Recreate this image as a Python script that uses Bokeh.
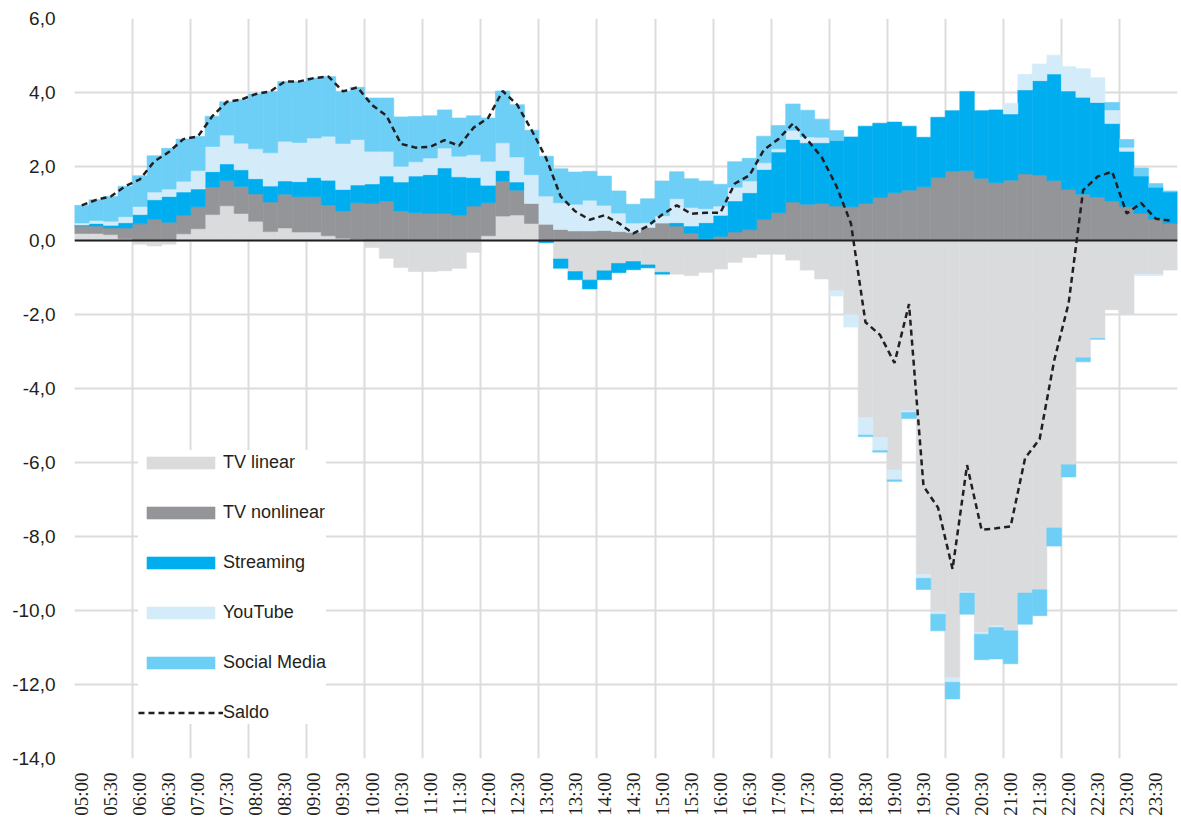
import math
from bokeh.plotting import figure
from bokeh.models import ColumnDataSource, FixedTicker, Span, Legend, LegendItem, Range1d
from bokeh.embed import file_html
from bokeh.resources import INLINE

# ---- axis labels ----
x_tick_labels = ["05:00", "05:30", "06:00", "06:30", "07:00", "07:30", "08:00", "08:30",
                 "09:00", "09:30", "10:00", "10:30", "11:00", "11:30", "12:00", "12:30",
                 "13:00", "13:30", "14:00", "14:30", "15:00", "15:30", "16:00", "16:30",
                 "17:00", "17:30", "18:00", "18:30", "19:00", "19:30", "20:00", "20:30",
                 "21:00", "21:30", "22:00", "22:30", "23:00", "23:30"]
y_ticks = [-14, -12, -10, -8, -6, -4, -2, 0, 2, 4, 6]
y_tick_labels = ["-14,0", "-12,0", "-10,0", "-8,0", "-6,0", "-4,0", "-2,0", "0,0", "2,0", "4,0", "6,0"]

# ---- data: 15-minute slots from 05:00 to 23:45 ----
tv_linear = [
    0.19, 0.19, 0.16, 0.05, -0.10, -0.15, -0.10, 0.18, 0.32, 0.70,
    0.94, 0.73, 0.52, 0.24, 0.34, 0.23, 0.23, 0.13, 0.06, 0.03,
    -0.19, -0.48, -0.73, -0.84, -0.84, -0.82, -0.75, -0.32, 0.13, 0.66,
    0.69, 0.46, 0.00, -0.50, -0.84, -1.07, -0.82, -0.62, -0.57, -0.66,
    -0.86, -0.91, -0.95, -0.86, -0.77, -0.59, -0.46, -0.37, -0.37, -0.53,
    -0.80, -1.04, -1.36, -2.01, -4.79, -5.32, -6.20, -4.60, -9.02, -10.04,
    -11.82, -9.49, -10.59, -10.41, -10.55, -9.53, -9.44, -7.77, -6.06, -3.17,
    -2.65, -1.87, -2.00, -0.91, -0.91, -0.80]
tv_nonlinear = [
    0.20, 0.20, 0.18, 0.29, 0.45, 0.58, 0.49, 0.50, 0.59, 0.74,
    0.68, 0.73, 0.74, 0.80, 0.91, 0.95, 0.95, 0.83, 0.74, 0.99,
    1.00, 1.07, 0.80, 0.75, 0.73, 0.73, 0.68, 0.93, 0.89, 0.95,
    0.67, 0.54, 0.44, 0.30, 0.26, 0.26, 0.27, 0.24, 0.22, 0.35,
    0.47, 0.39, 0.20, 0.05, 0.11, 0.23, 0.29, 0.57, 0.75, 1.04,
    0.98, 1.00, 0.93, 0.91, 1.00, 1.16, 1.29, 1.36, 1.45, 1.70,
    1.87, 1.89, 1.68, 1.56, 1.63, 1.80, 1.77, 1.62, 1.38, 1.25,
    1.17, 1.07, 0.91, 0.73, 0.57, 0.46]
streaming = [
    0.03, 0.07, 0.07, 0.14, 0.25, 0.52, 0.70, 0.63, 0.48, 0.42,
    0.45, 0.45, 0.41, 0.43, 0.36, 0.41, 0.52, 0.67, 0.58, 0.48,
    0.53, 0.67, 0.78, 0.99, 1.05, 1.23, 1.04, 0.77, 0.47, 0.28,
    0.22, 0.00, -0.06, -0.25, -0.22, -0.24, -0.24, -0.25, -0.22, -0.08,
    -0.05, 0.09, 0.19, 0.43, 0.57, 0.84, 1.00, 1.35, 1.64, 1.69,
    1.66, 1.64, 1.77, 1.89, 2.09, 2.01, 1.91, 1.73, 1.34, 1.63,
    1.64, 2.14, 1.83, 1.97, 1.79, 2.27, 2.55, 2.88, 2.66, 2.62,
    2.56, 2.09, 1.50, 1.01, 0.87, 0.85]
youtube = [
    0.055, 0.08, 0.11, 0.165, 0.22, 0.21, 0.20, 0.29, 0.50, 0.68,
    0.78, 0.72, 0.81, 0.90, 1.07, 1.06, 1.07, 1.19, 1.24, 1.23,
    0.88, 0.67, 0.43, 0.39, 0.45, 0.54, 0.56, 0.62, 0.65, 0.75,
    0.68, 0.78, 0.76, 0.72, 0.72, 0.83, 0.68, 0.50, 0.25, 0.13,
    0.20, 0.65, 0.50, 0.38, 0.25, 0.37, 0.32, 0.18, 0.09, 0.25,
    0.16, 0.15, -0.14, -0.33, -0.47, -0.36, -0.27, -0.05, -0.11, -0.06,
    -0.12, -0.04, -0.05, -0.05, 0.29, 0.42, 0.45, 0.51, 0.66, 0.77,
    0.67, 0.37, 0.11, -0.04, -0.04, 0.00]
social_media = [
    0.475, 0.56, 0.67, 0.82, 0.83, 0.98, 1.10, 1.14, 0.92, 0.82,
    0.90, 1.18, 1.48, 1.66, 1.62, 1.65, 1.62, 1.61, 1.41, 1.41,
    1.44, 1.44, 1.33, 1.22, 1.14, 1.03, 1.03, 1.05, 1.17, 1.40,
    1.41, 1.20, 1.08, 0.92, 0.87, 0.78, 0.79, 0.60, 0.51, 0.65,
    0.94, 0.73, 0.78, 0.75, 0.59, 0.69, 0.61, 0.72, 0.63, 0.71,
    0.72, 0.49, 0.27, 0.00, -0.04, -0.04, -0.04, -0.16, -0.30, -0.45,
    -0.45, -0.57, -0.69, -0.85, -0.89, -0.84, -0.70, -0.49, -0.33, -0.11,
    -0.02, 0.20, 0.21, 0.22, 0.10, 0.03]
saldo = [
    0.95, 1.10, 1.19, 1.47, 1.65, 2.14, 2.39, 2.74, 2.81, 3.36,
    3.75, 3.81, 3.96, 4.03, 4.30, 4.30, 4.39, 4.43, 4.03, 4.14,
    3.66, 3.37, 2.61, 2.51, 2.53, 2.71, 2.56, 3.05, 3.31, 4.04,
    3.67, 2.98, 2.22, 1.19, 0.79, 0.56, 0.68, 0.47, 0.19, 0.39,
    0.70, 0.95, 0.72, 0.75, 0.75, 1.54, 1.76, 2.45, 2.74, 3.16,
    2.72, 2.24, 1.47, 0.46, -2.21, -2.55, -3.31, -1.72, -6.64, -7.22,
    -8.88, -6.07, -7.82, -7.78, -7.73, -5.88, -5.37, -3.25, -1.69, 1.36,
    1.73, 1.86, 0.73, 1.01, 0.59, 0.54]

series_names = ["TV linear", "TV nonlinear", "Streaming", "YouTube", "Social Media"]
series_values = [tv_linear, tv_nonlinear, streaming, youtube, social_media]
series_colors = ["#dadbdd", "#939598", "#00aeef", "#d4ecfa", "#6dcff6"]

TEXT = "#231f20"
GRID = "#dcdcdc"

n = len(tv_linear)
slots = list(range(n))

p = figure(width=1181, height=819, output_backend="svg", toolbar_location=None,
           x_range=Range1d(-0.5, n - 0.5), y_range=Range1d(-14, 6),
           min_border_left=74, min_border_right=4, min_border_top=18, min_border_bottom=61)
p.outline_line_color = None
p.background_fill_color = "white"

pos_base = [0.0] * n
neg_base = [0.0] * n
legend_items = []
for name, vals, color in zip(series_names, series_values, series_colors):
    xs, bots, tops = [], [], []
    for i, v in enumerate(vals):
        if v > 0:
            xs.append(i); bots.append(pos_base[i]); tops.append(pos_base[i] + v)
            pos_base[i] += v
        elif v < 0:
            xs.append(i); tops.append(neg_base[i]); bots.append(neg_base[i] + v)
            neg_base[i] += v
    src = ColumnDataSource(dict(x=xs, bottom=bots, top=tops))
    r = p.vbar(x="x", width=1.0, bottom="bottom", top="top", source=src,
               fill_color=color, line_color=color, line_width=0.6)
    legend_items.append(LegendItem(label=name, renderers=[r]))

p.add_layout(Span(location=0, dimension="width", line_color=TEXT, line_width=2))

saldo_src = ColumnDataSource(dict(x=slots, y=saldo))
rl = p.line("x", "y", source=saldo_src, line_color=TEXT, line_width=2.5, line_dash="6 4")
legend_items.append(LegendItem(label="Saldo", renderers=[rl]))

legend = Legend(items=legend_items, location=(64, 34), orientation="vertical",
                glyph_width=85, glyph_height=15, label_standoff=0, label_height=24,
                spacing=26, padding=12, margin=0,
                label_text_font="Liberation Sans", label_text_font_size="18px",
                label_text_color=TEXT, background_fill_color="white", background_fill_alpha=1.0,
                border_line_color=None)
p.add_layout(legend)

# x axis
p.xaxis.ticker = FixedTicker(ticks=[2 * i for i in range(len(x_tick_labels))])
p.xaxis.major_label_overrides = {2 * i: lab for i, lab in enumerate(x_tick_labels)}
p.xaxis.major_label_orientation = math.pi / 2
p.xaxis.axis_line_color = None
p.xaxis.major_tick_line_color = None
p.xaxis.minor_tick_line_color = None
p.xaxis.major_tick_out = 0
p.xaxis.major_tick_in = 0
p.xaxis.major_label_standoff = 14
p.xaxis.major_label_text_font = "Liberation Sans Narrow"
p.xaxis.major_label_text_font_size = "19px"
p.xaxis.major_label_text_color = TEXT

# y axis
p.yaxis.ticker = FixedTicker(ticks=y_ticks)
p.yaxis.major_label_overrides = {t: lab for t, lab in zip(y_ticks, y_tick_labels)}
p.yaxis.axis_line_color = None
p.yaxis.major_tick_line_color = None
p.yaxis.minor_tick_line_color = None
p.yaxis.major_tick_out = 0
p.yaxis.major_tick_in = 0
p.yaxis.major_label_standoff = 19
p.yaxis.major_label_text_font = "Liberation Sans"
p.yaxis.major_label_text_font_size = "19px"
p.yaxis.major_label_text_color = TEXT

# grids
p.xgrid.ticker = FixedTicker(ticks=[-0.5 + 4 * k for k in range(20)])
p.xgrid.grid_line_color = GRID
p.xgrid.grid_line_width = 2
p.ygrid.ticker = FixedTicker(ticks=y_ticks)
p.ygrid.grid_line_color = GRID
p.ygrid.grid_line_width = 2

open("out.html", "w").write(file_html(p, INLINE))
